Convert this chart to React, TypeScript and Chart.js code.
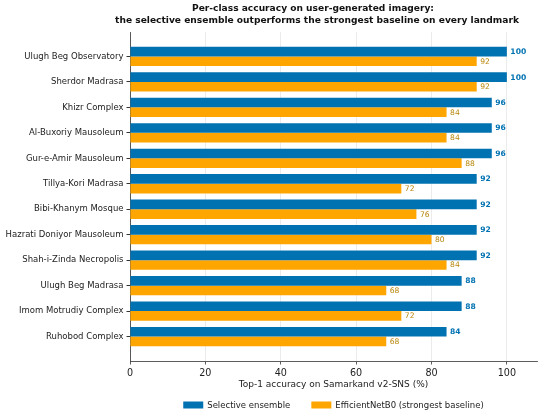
import React, { useEffect, useRef } from "react";
import { Chart, registerables } from "chart.js";

Chart.register(...registerables);

const categories = [
  "Ulugh Beg Observatory",
  "Sherdor Madrasa",
  "Khizr Complex",
  "Al-Buxoriy Mausoleum",
  "Gur-e-Amir Mausoleum",
  "Tillya-Kori Madrasa",
  "Bibi-Khanym Mosque",
  "Hazrati Doniyor Mausoleum",
  "Shah-i-Zinda Necropolis",
  "Ulugh Beg Madrasa",
  "Imom Motrudiy Complex",
  "Ruhobod Complex",
];
const ensembleValues = [100, 100, 96, 96, 96, 92, 92, 92, 92, 88, 88, 84];
const baselineValues = [92, 92, 84, 84, 88, 72, 76, 80, 84, 68, 72, 68];
const xTicks = [0, 20, 40, 60, 80, 100];
const titleLines = [
  "Per-class accuracy on user-generated imagery:",
  "the selective ensemble outperforms the strongest baseline on every landmark",
];
const seriesNames = ["Selective ensemble", "EfficientNetB0 (strongest baseline)"];

const BLUE = "#0072B2";
const ORANGE = "#FFA500";
const FONT = "'DejaVu Sans', sans-serif";

const titlePlugin = {
  id: "customTitle",
  afterDraw(chart: any) {
    const ctx = chart.ctx;
    ctx.save();
    ctx.font = `bold 9.1px ${FONT}`;
    ctx.fillStyle = "#111";
    ctx.textAlign = "center";
    ctx.textBaseline = "middle";
    ctx.fillText(titleLines[0], 313, 8.5);
    ctx.fillText(titleLines[1], 317, 20.5);
    ctx.restore();
  },
};

const legendPlugin = {
  id: "customLegend",
  afterDraw(chart: any) {
    const ctx = chart.ctx;
    const area = chart.chartArea;
    ctx.save();
    ctx.font = `8.5px ${FONT}`;
    ctx.textBaseline = "middle";
    ctx.textAlign = "left";
    const boxW = 20;
    const boxH = 7;
    const gapText = 4;
    const gapItem = 21;
    const widths = seriesNames.map((n) => ctx.measureText(n).width);
    const total = widths.reduce((a, w) => a + boxW + gapText + w, 0) + gapItem;
    let x = (area.left + area.right) / 2 - total / 2;
    const y = 405;
    const colors = [BLUE, ORANGE];
    seriesNames.forEach((n, i) => {
      ctx.fillStyle = colors[i];
      ctx.fillRect(x, y - boxH / 2, boxW, boxH);
      ctx.fillStyle = "#222";
      ctx.fillText(n, x + boxW + gapText, y + 0.5);
      x += boxW + gapText + widths[i] + gapItem;
    });
    ctx.restore();
  },
};

const valueLabelPlugin = {
  id: "valueLabels",
  afterDatasetsDraw(chart: any) {
    const ctx = chart.ctx;
    ctx.save();
    ctx.textAlign = "left";
    ctx.textBaseline = "middle";
    chart.data.datasets.forEach((ds: any, di: number) => {
      const meta = chart.getDatasetMeta(di);
      meta.data.forEach((bar: any, i: number) => {
        const v = (di === 0 ? ensembleValues : baselineValues)[i];
        if (di === 0) {
          ctx.font = `bold 7.6px ${FONT}`;
          ctx.fillStyle = BLUE;
        } else {
          ctx.font = `7.6px ${FONT}`;
          ctx.fillStyle = "#B8860B";
        }
        ctx.fillText(String(v), bar.x + 3.5, bar.y + 0.5);
      });
    });
    ctx.restore();
  },
};

export default function App() {
  const ref = useRef<HTMLCanvasElement>(null);
  useEffect(() => {
    if (!ref.current) return;
    const chart = new Chart(ref.current, {
      type: "bar",
      data: {
        datasets: [
          {
            label: seriesNames[0],
            data: ensembleValues.map((v, i) => ({ x: v, y: i })),
            backgroundColor: BLUE,
            borderWidth: 0,
          },
          {
            label: seriesNames[1],
            data: baselineValues.map((v, i) => ({ x: v, y: i })),
            backgroundColor: ORANGE,
            borderWidth: 0,
          },
        ],
      },
      options: {
        indexAxis: "y",
        animation: false,
        responsive: false,
        devicePixelRatio: 1,
        categoryPercentage: 0.76,
        barPercentage: 1.0,
        layout: { padding: { top: 32, left: 0, right: 13, bottom: 24 } },
        scales: {
          x: {
            type: "linear",
            min: 0,
            max: 108,
            afterBuildTicks: (scale: any) => {
              scale.ticks = xTicks.map((v) => ({ value: v }));
            },
            afterFit: (scale: any) => {
              scale.height = 29;
            },
            grid: {
              color: "#e6e6e6",
              lineWidth: 0.8,
              tickColor: "#333",
              tickLength: 3.5,
            },
            border: { color: "#333", width: 0.8 },
            ticks: {
              color: "#222",
              font: { family: FONT, size: 9.6 },
              padding: 3,
              maxRotation: 0,
            },
            title: {
              display: true,
              text: "Top-1 accuracy on Samarkand v2-SNS (%)",
              color: "#222",
              font: { family: FONT, size: 9 },
              padding: { top: 0, bottom: 0 },
            },
          },
          y: {
            type: "linear",
            reverse: true,
            offset: false,
            min: -0.96,
            max: 11.96,
            afterBuildTicks: (scale: any) => {
              scale.ticks = categories.map((_, i) => ({ value: i }));
            },
            afterFit: (scale: any) => {
              scale.width = 130;
            },
            grid: {
              offset: false,
              drawOnChartArea: false,
              tickColor: "#333",
              tickLength: 3.5,
            },
            border: { color: "#333", width: 0.8 },
            ticks: {
              color: "#222",
              font: { family: FONT, size: 8.5 },
              padding: 3,
              callback: (v: any) => categories[v] ?? "",
            },
          },
        },
        plugins: {
          title: { display: false },
          tooltip: { enabled: false },
          legend: { display: false },
        },
      },
      plugins: [titlePlugin, valueLabelPlugin, legendPlugin],
    } as any);
    return () => chart.destroy();
  }, []);
  return (
    <div style={{ position: "absolute", left: 0, top: 0, width: 550, height: 414, background: "#fff" }}>
      <canvas ref={ref} width={550} height={414} style={{ width: 550, height: 414, display: "block" }} />
    </div>
  );
}
